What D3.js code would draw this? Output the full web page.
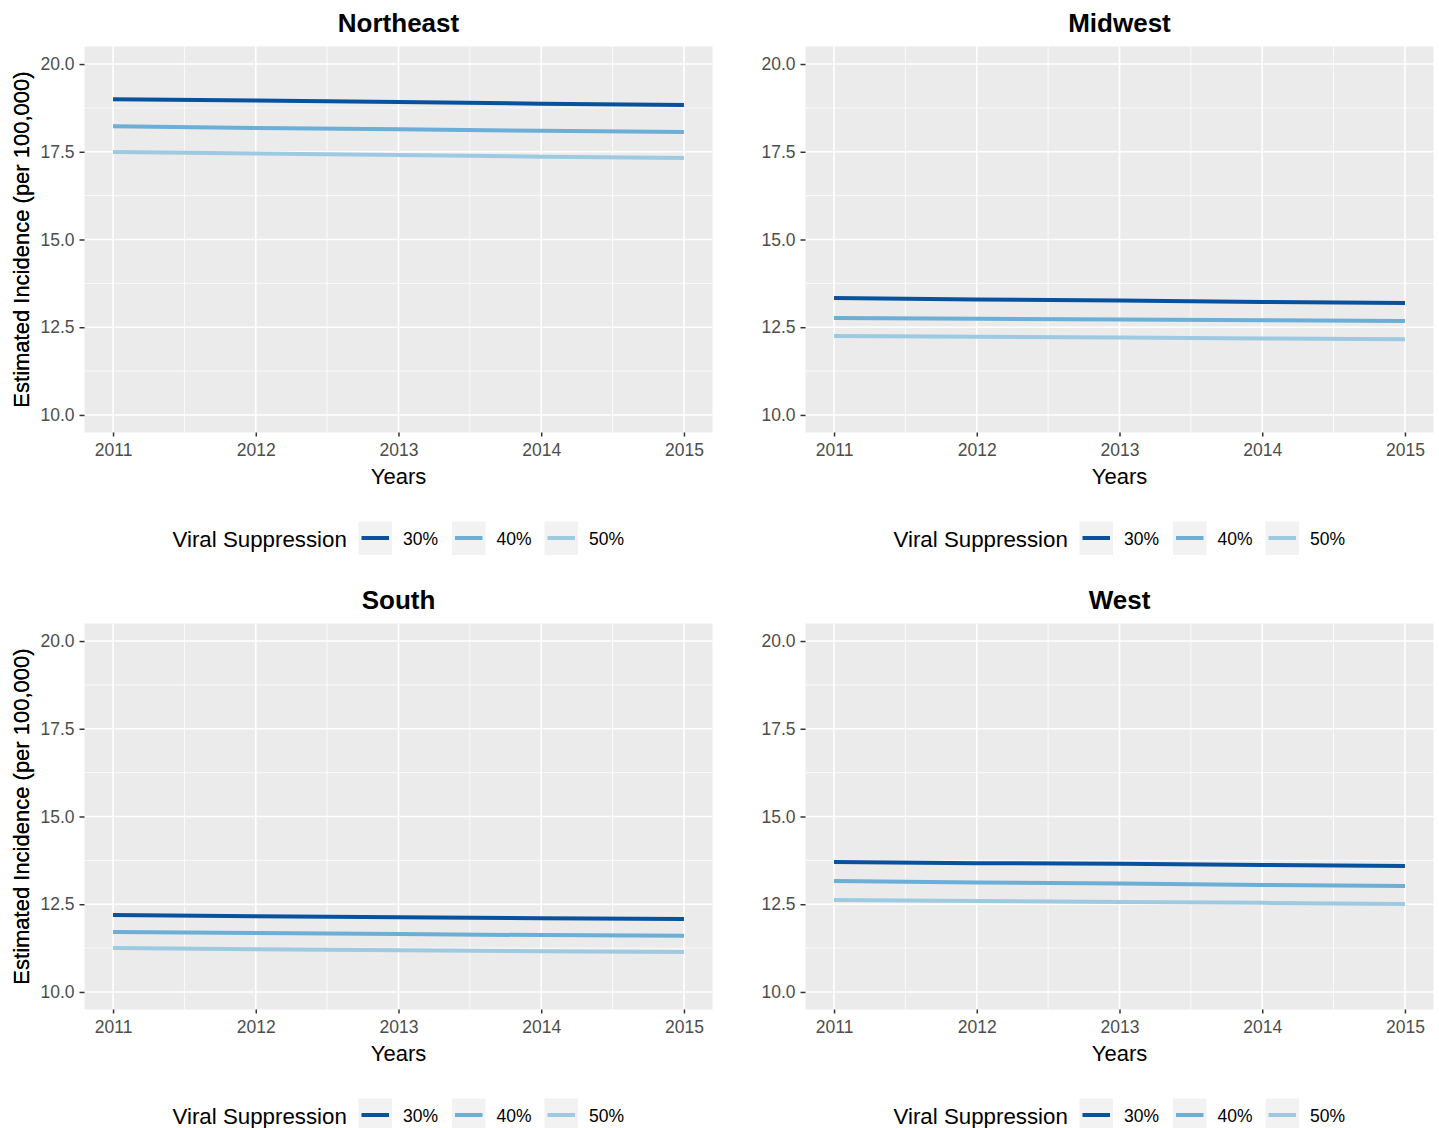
<!DOCTYPE html>
<html><head><meta charset="utf-8">
<script src="https://cdn.jsdelivr.net/npm/d3@7"></script>
<style>body{margin:0;background:#fff}svg{display:block}text{font-family:"Liberation Sans",Arial,sans-serif}</style>
</head><body>
<svg id="c" width="1439" height="1128"></svg>
<script>
const years = [2011, 2012, 2013, 2014, 2015];
const regions = ["Northeast", "Midwest", "South", "West"];
const seriesNames = ["30%", "40%", "50%"];
const seriesColors = ["#08519c", "#6baed6", "#9ecae1"];
const yTicks = [10.0, 12.5, 15.0, 17.5, 20.0];
const northeast30 = [19.00, 18.96, 18.92, 18.87, 18.83];
const northeast40 = [18.23, 18.18, 18.14, 18.10, 18.06];
const northeast50 = [17.49, 17.45, 17.41, 17.36, 17.32];
const midwest30 = [13.33, 13.29, 13.26, 13.22, 13.19];
const midwest40 = [12.76, 12.74, 12.72, 12.70, 12.68];
const midwest50 = [12.25, 12.23, 12.21, 12.18, 12.16];
const south30 = [12.19, 12.16, 12.13, 12.10, 12.08];
const south40 = [11.71, 11.68, 11.65, 11.62, 11.60];
const south50 = [11.25, 11.22, 11.19, 11.16, 11.14];
const west30 = [13.70, 13.67, 13.65, 13.62, 13.59];
const west40 = [13.16, 13.12, 13.09, 13.05, 13.02];
const west50 = [12.62, 12.59, 12.56, 12.54, 12.51];
const regionData = {
  Northeast: [northeast30, northeast40, northeast50],
  Midwest: [midwest30, midwest40, midwest50],
  South: [south30, south40, south50],
  West: [west30, west40, west50]
};

const svg = d3.select("#c");
const PW = 628, PH = 386;
const origins = [[84.5, 46.5], [805.5, 46.5], [84.5, 623.5], [805.5, 623.5]];

regions.forEach((name, i) => {
  const [ox, oy] = origins[i];
  const g = svg.append("g").attr("transform", `translate(${ox},${oy})`);
  const x = d3.scaleLinear().domain([2010.8, 2015.2]).range([0, PW]);
  const y = d3.scaleLinear().domain([9.5, 20.5]).range([PH, 0]);

  g.append("rect").attr("width", PW).attr("height", PH).attr("fill", "#ebebeb");
  const xMinor = [2011.5, 2012.5, 2013.5, 2014.5];
  const yMinor = [11.25, 13.75, 16.25, 18.75];
  g.selectAll(".xm").data(xMinor).join("line")
    .attr("x1", d => x(d)).attr("x2", d => x(d)).attr("y1", 0).attr("y2", PH)
    .attr("stroke", "#fff").attr("stroke-width", 0.8);
  g.selectAll(".ym").data(yMinor).join("line")
    .attr("y1", d => y(d)).attr("y2", d => y(d)).attr("x1", 0).attr("x2", PW)
    .attr("stroke", "#fff").attr("stroke-width", 0.8);
  g.selectAll(".xg").data(years).join("line")
    .attr("x1", d => x(d)).attr("x2", d => x(d)).attr("y1", 0).attr("y2", PH)
    .attr("stroke", "#fff").attr("stroke-width", 1.6);
  g.selectAll(".yg").data(yTicks).join("line")
    .attr("y1", d => y(d)).attr("y2", d => y(d)).attr("x1", 0).attr("x2", PW)
    .attr("stroke", "#fff").attr("stroke-width", 1.6);

  const xa = g.append("g").attr("transform", `translate(0,${PH})`)
    .call(d3.axisBottom(x).tickValues(years).tickFormat(d3.format("d")).tickSize(4).tickPadding(7));
  const ya = g.append("g")
    .call(d3.axisLeft(y).tickValues(yTicks).tickFormat(d3.format(".1f")).tickSize(5).tickPadding(5));
  [xa, ya].forEach(a => {
    a.select(".domain").remove();
    a.selectAll("line").attr("stroke", "#333").attr("stroke-width", 1.5);
    a.selectAll("text").attr("fill", "#4d4d4d").style("font-size", "17.5px");
  });

  const line = d3.line().x((d, j) => x(years[j])).y(d => y(d));
  regionData[name].forEach((vals, k) => {
    g.append("path").attr("d", line(vals)).attr("fill", "none")
      .attr("stroke", seriesColors[k]).attr("stroke-width", 4);
  });

  g.append("text").attr("x", PW / 2).attr("y", -15).attr("text-anchor", "middle")
    .style("font-size", "26px").style("font-weight", "bold").attr("fill", "#000").text(name);
  g.append("text").attr("x", PW / 2).attr("y", PH + 51).attr("text-anchor", "middle")
    .style("font-size", "22px").attr("fill", "#000").text("Years");
  g.append("text").attr("transform", `translate(${-ox + 29},${PH / 2}) rotate(-90)`)
    .attr("text-anchor", "middle").style("font-size", "22px").attr("fill", "#000")
    .text("Estimated Incidence (per 100,000)");

  const lg = g.append("g").attr("transform", `translate(0,${PH + 106})`);
  lg.append("text").attr("x", 88).attr("y", 8).style("font-size", "22.3px").attr("fill", "#000")
    .text("Viral Suppression");
  const keyX = [274, 367.5, 460];
  seriesNames.forEach((s, k) => {
    lg.append("rect").attr("x", keyX[k]).attr("y", -17).attr("width", 33.5).attr("height", 33.5).attr("fill", "#f2f2f2");
    lg.append("line").attr("x1", keyX[k] + 3).attr("x2", keyX[k] + 30.5).attr("y1", -0.5).attr("y2", -0.5)
      .attr("stroke", seriesColors[k]).attr("stroke-width", 4);
    lg.append("text").attr("x", keyX[k] + 44.5).attr("y", 6.5).style("font-size", "17.5px").attr("fill", "#000").text(s);
  });
});
</script>
</body></html>
